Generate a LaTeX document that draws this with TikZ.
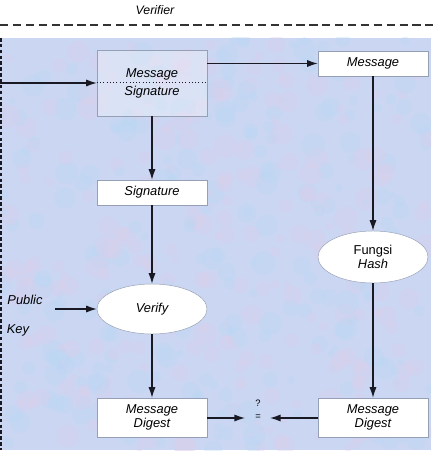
\documentclass[tikz,border=0pt]{standalone}
\usepackage{fontspec}
\setmainfont{Liberation Sans}
\usetikzlibrary{shapes.geometric,arrows.meta}
\definecolor{bgblue}{RGB}{202,214,242}
\definecolor{bgpink}{RGB}{222,206,236}
\definecolor{bgsky}{RGB}{186,214,244}
\definecolor{boxgray}{RGB}{150,160,180}
\definecolor{linedark}{RGB}{25,25,35}
\begin{document}
\begin{tikzpicture}[x=0.03cm,y=-0.03cm,
    font=\fontsize{11}{12}\selectfont\itshape,
    box/.style={draw=boxgray,fill=white,minimum width=3.3cm,minimum height=0.75cm,inner sep=1pt,align=center},
    oval/.style={ellipse,draw=boxgray,fill=white,minimum width=3.3cm,minimum height=1.5cm,inner sep=1pt,align=center},
    flow/.style={-{Latex[length=9pt,width=6pt]},draw=linedark,line width=1pt}]
  \useasboundingbox (0,0) rectangle (437,456);
  % background
  \fill[bgblue] (0,38) rectangle (431,450);
  \begin{scope}
    \clip (0,38) rectangle (431,450);
    \pgfmathsetseed{7}
    \foreach \i in {1,...,500}{
      \pgfmathsetmacro{\px}{rnd*431}
      \pgfmathsetmacro{\py}{38+rnd*412}
      \pgfmathsetmacro{\pr}{3+rnd*9}
      \pgfmathtruncatemacro{\pc}{rnd*2}
      \ifnum\pc=0
        \fill[bgpink,opacity=0.35] (\px,\py) circle (\pr);
      \else
        \fill[bgsky,opacity=0.35] (\px,\py) circle (\pr);
      \fi
    }
  \end{scope}
  \draw[linedark,line width=1.1pt,dash pattern=on 3pt off 2pt] (1,38) -- (1,450);
  \draw[black!80,line width=0.9pt,dash pattern=on 7pt off 4pt] (0,25) -- (437,25);
  \node (verifier) at (155,10) {\fontsize{10.5}{12}\selectfont Verifier};
  % left column
  \node[box,fill=white,fill opacity=0.3,minimum height=1.98cm] (ms) at (152,83) {};
  \node (msg) at (152,74) {Message};
  \node (sig) at (152,92) {Signature};
  \draw[linedark,dotted,line width=0.8pt] (ms.west |- 0,82) -- (ms.east |- 0,82);
  \node[box] (sign) at (152,192.5) {Signature};
  \node[oval] (verify) at (152,309) {Verify};
  \node[box,minimum height=1.17cm] (mdl) at (152,417.5) {Message\\Digest};
  \node (pub) at (25,300) {Public};
  \node (key) at (18,330) {Key};
  \coordinate (pk) at (55,309);
  \coordinate (in) at (0,83);
  % right column
  \node[box] (msgr) at (373,63.5) {Message};
  \node[oval,minimum height=1.56cm] (hash) at (373,257) {\upshape Fungsi\\Hash};
  \node[box,minimum height=1.17cm] (mdr) at (373,417.5) {Message\\Digest};
  \node[font=\fontsize{8}{8}\selectfont\upshape,align=center,inner sep=0pt] (eq) at (258,410) {?\\[3pt]=};
  \coordinate (eql) at (245,418);
  \coordinate (eqr) at (270,418);
  % connectors
  \draw[flow] (in) -- (ms.west |- in);
  \draw[flow] (ms.east |- msgr.west) -- (msgr.west);
  \draw[flow] (ms) -- (sign);
  \draw[flow] (sign) -- (verify);
  \draw[flow] (pk) -- (verify.west);
  \draw[flow] (verify) -- (mdl);
  \draw[flow] (msgr) -- (hash);
  \draw[flow] (hash) -- (mdr);
  \draw[flow] (mdl.east |- eql) -- (eql);
  \draw[flow] (mdr.west |- eqr) -- (eqr);
\end{tikzpicture}
\end{document}
